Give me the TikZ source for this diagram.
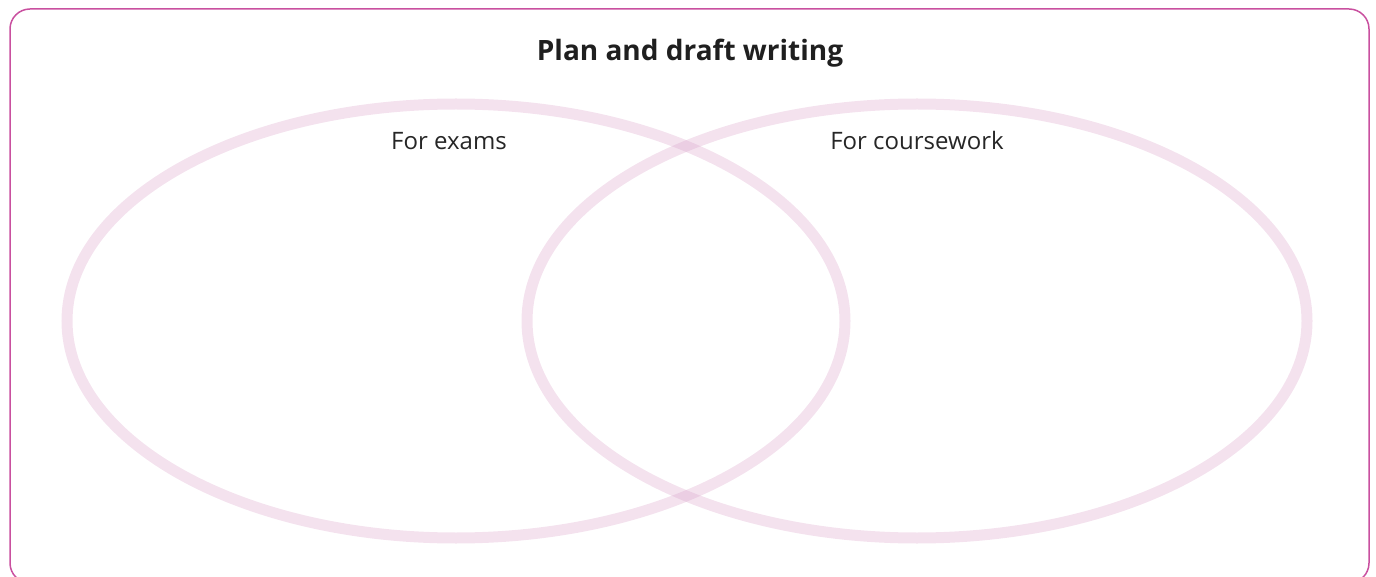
\documentclass[tikz,border=0pt]{standalone}
\usepackage{fontspec}
\usetikzlibrary{shapes.geometric}
\setmainfont{Open Sans}
\definecolor{frame}{HTML}{C9509F}
\definecolor{ring}{HTML}{D9A0C8}
\begin{document}
\begin{tikzpicture}[x=1pt,y=-1pt,
  ringstyle/.style={ellipse,draw=ring,line width=11pt,draw opacity=0.3,inner sep=0pt,outer sep=0pt,minimum height=434pt},
  lbl/.style={font=\fontsize{24}{28}\selectfont,text=black!85,inner sep=0pt,anchor=base},
  ttl/.style={font=\bfseries\fontsize{28}{32}\selectfont,text=black!88,inner sep=0pt,anchor=base}]
\useasboundingbox (0,0) rectangle (1376,577);
\begin{scope}
\clip (0,0) rectangle (1376,577);
\draw[frame,line width=1.5pt,rounded corners=20pt] (10,9) rectangle (1369,583);
\end{scope}
\node[ringstyle,minimum width=778pt] (exring) at (456,321) {};
\node[ringstyle,minimum width=780pt] (coring) at (917,321) {};
\node[ttl] (title) at (690,61) {Plan and draft writing};
\node[lbl] (exams) at (449,150) {For exams};
\node[lbl] (course) at (917,150) {For coursework};
\end{tikzpicture}
\end{document}
